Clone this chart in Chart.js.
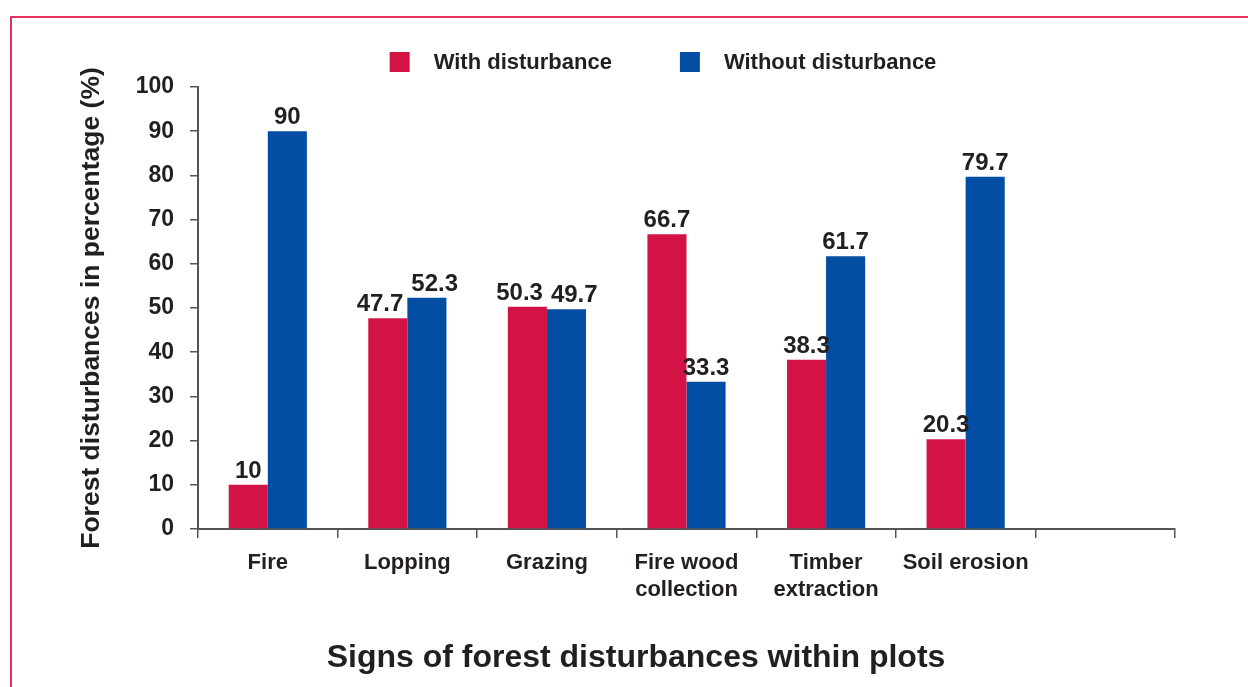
<!DOCTYPE html>
<html>
<head>
<meta charset="utf-8">
<script src="https://cdn.jsdelivr.net/npm/chart.js@4.4.1/dist/chart.umd.min.js"></script>
<style>
  html, body { margin: 0; padding: 0; background: #fff; overflow: hidden; }
  #frame {
    position: absolute; left: 10px; top: 16px; width: 1400px; height: 800px;
    border-top: 2px solid #e2335f; border-left: 2px solid #e2335f;
  }
  #wrap { position: absolute; left: 0; top: 0; width: 1248px; height: 687px; }
</style>
</head>
<body>
<div id="frame"></div>
<div id="wrap"><canvas id="chart" width="1248" height="687"></canvas></div>
<script>
const categories = [
  'Fire',
  'Lopping',
  'Grazing',
  ['Fire wood', 'collection'],
  ['Timber', 'extraction'],
  'Soil erosion',
  ''
];
const withDisturbance = [10, 47.7, 50.3, 66.7, 38.3, 20.3, null];
const withoutDisturbance = [90, 52.3, 49.7, 33.3, 61.7, 79.7, null];
const yTicks = [0, 10, 20, 30, 40, 50, 60, 70, 80, 90, 100];
const xTitle = 'Signs of forest disturbances within plots';

const RED = '#d31345';
const BLUE = '#034ea2';
const INK = '#231f20';
const SANS = '"Liberation Sans", Arial, sans-serif';

// value labels above bars, pushed apart when a pair would collide
const valueLabels = {
  id: 'valueLabels',
  afterDatasetsDraw(chart) {
    const ctx = chart.ctx;
    ctx.save();
    ctx.font = 'bold 24px ' + SANS;
    ctx.fillStyle = INK;
    ctx.textAlign = 'center';
    ctx.textBaseline = 'alphabetic';
    const m0 = chart.getDatasetMeta(0).data;
    const m1 = chart.getDatasetMeta(1).data;
    const d0 = chart.data.datasets[0].data;
    const d1 = chart.data.datasets[1].data;
    m0.forEach((b0, j) => {
      if (d0[j] == null || d1[j] == null) return;
      const b1 = m1[j];
      const t0 = String(d0[j]), t1 = String(d1[j]);
      const w0 = ctx.measureText(t0).width, w1 = ctx.measureText(t1).width;
      let x0 = b0.x, x1 = b1.x;
      if (Math.abs(b0.y - b1.y) < 22) {
        const overlap = (x0 + w0 / 2 + 8) - (x1 - w1 / 2);
        if (overlap > 0) { x0 -= overlap / 2; x1 += overlap / 2; }
      }
      ctx.fillText(t0, x0, b0.y - 7);
      ctx.fillText(t1, x1, b1.y - 7);
    });
    ctx.restore();
  }
};

// legend and bottom title drawn by hand so spacing can match
const topLegend = {
  id: 'topLegend',
  afterDraw(chart) {
    const ctx = chart.ctx;
    ctx.save();
    ctx.font = 'bold 22px ' + SANS;
    ctx.textBaseline = 'middle';
    ctx.textAlign = 'left';
    const box = 20, gapText = 24, gapItem = 68, cy = 62;
    const items = chart.data.datasets.map(ds => ({
      label: ds.label, color: ds.backgroundColor, w: ctx.measureText(ds.label).width
    }));
    let total = 0;
    items.forEach((it, i) => {
      total += box + gapText + it.w + (i < items.length - 1 ? gapItem : 0);
    });
    let x = 663 - total / 2;
    items.forEach(it => {
      ctx.fillStyle = it.color;
      ctx.fillRect(x, cy - box / 2, box, box);
      ctx.fillStyle = INK;
      ctx.fillText(it.label, x + box + gapText, cy + 1);
      x += box + gapText + it.w + gapItem;
    });

    ctx.font = 'bold 32px ' + SANS;
    ctx.textAlign = 'center';
    ctx.fillText(xTitle, 636, 658);
    ctx.restore();
  }
};

new Chart(document.getElementById('chart'), {
  type: 'bar',
  data: {
    labels: categories,
    datasets: [
      { label: 'With disturbance', data: withDisturbance, backgroundColor: RED },
      { label: 'Without disturbance', data: withoutDisturbance, backgroundColor: BLUE }
    ]
  },
  options: {
    responsive: false,
    animation: false,
    devicePixelRatio: 1,
    layout: { padding: { top: 87, right: 73, bottom: 0, left: 0 } },
    datasets: { bar: { barPercentage: 1, categoryPercentage: 0.56 } },
    plugins: {
      legend: { display: false },
      tooltip: { enabled: false },
      title: { display: false }
    },
    scales: {
      x: {
        grid: {
          offset: true, drawOnChartArea: false, drawTicks: true,
          tickLength: 9, color: '#555', lineWidth: 1.5
        },
        border: { display: true, color: '#555', width: 2 },
        ticks: {
          color: INK, font: { family: SANS, size: 22, weight: 'bold', lineHeight: 1.22 },
          padding: 12, maxRotation: 0, autoSkip: false
        },
        afterFit(scale) { scale.height = 158; }
      },
      y: {
        min: 0, max: 100,
        afterBuildTicks(scale) { scale.ticks = yTicks.map(v => ({ value: v })); },
        grid: {
          drawOnChartArea: false, drawTicks: true, tickLength: 8,
          color: '#555', lineWidth: 1.5
        },
        border: { display: true, color: '#555', width: 2 },
        ticks: {
          color: INK, font: { family: SANS, size: 23, weight: 'bold' }, padding: 16
        },
        title: {
          display: true, text: 'Forest disturbances in percentage (%)',
          color: INK, font: { family: SANS, size: 26.5, weight: 'bold', lineHeight: 1.2 },
          padding: { top: 76, bottom: 0 }
        },
        afterFit(scale) { scale.width = 198; }
      }
    }
  },
  plugins: [valueLabels, topLegend]
});
</script>
</body>
</html>
